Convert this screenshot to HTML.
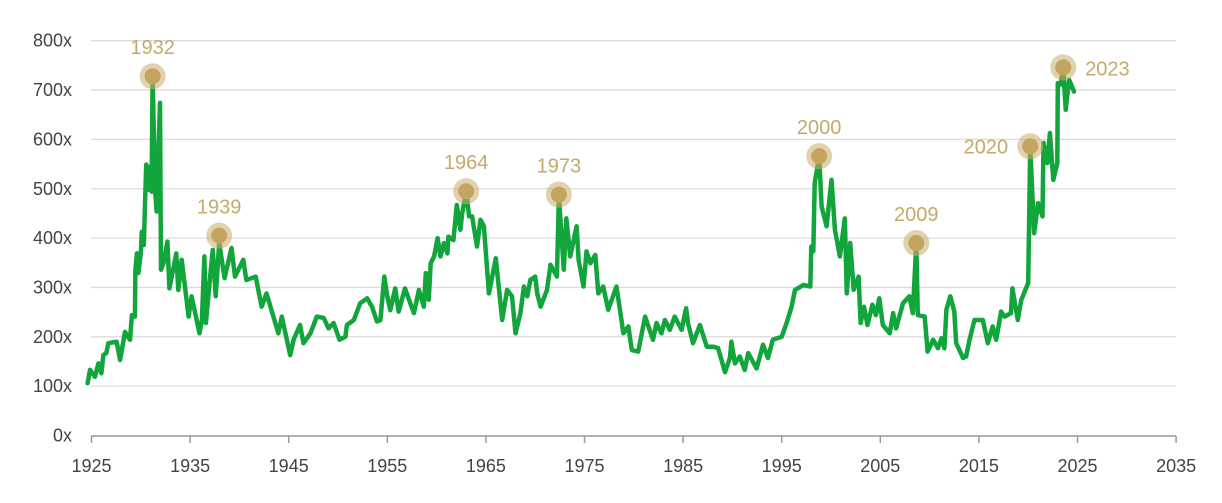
<!DOCTYPE html>
<html><head><meta charset="utf-8"><style>
html,body{margin:0;padding:0;background:#fff;}
svg{display:block;font-family:"Liberation Sans",sans-serif;}
</style></head><body>
<svg id="chart" width="1222" height="503" viewBox="0 0 1222 503">
<g id="grid"></g>
<g id="yaxis"></g>
<g id="xaxis"></g>
<g id="series"></g>
<g id="peaks"></g>
</svg>
<script>
const yTicks=[0,100,200,300,400,500,600,700,800];
const yTickLabels=["0x","100x","200x","300x","400x","500x","600x","700x","800x"];
const xTicks=[1925,1935,1945,1955,1965,1975,1985,1995,2005,2015,2025,2035];
const years=[1924.6,1924.85,1925.35,1925.7,1926.0,1926.2,1926.5,1926.7,1927.55,1927.9,1928.4,1928.9,1929.1,1929.4,1929.45,1929.6,1929.75,1930.0,1930.1,1930.3,1930.55,1930.8,1930.95,1931.1,1931.2,1931.45,1931.6,1931.95,1932.05,1932.3,1932.7,1932.9,1933.6,1933.8,1934.15,1934.85,1935.15,1935.95,1936.2,1936.45,1936.6,1937.0,1937.3,1937.6,1937.95,1938.5,1939.2,1939.55,1940.4,1940.7,1941.65,1942.25,1942.75,1943.45,1943.95,1944.3,1945.15,1945.5,1946.15,1946.5,1947.2,1947.85,1948.55,1949.05,1949.55,1950.15,1950.75,1950.9,1951.6,1952.25,1952.95,1953.45,1953.95,1954.3,1954.7,1955.0,1955.3,1955.8,1956.15,1956.8,1957.2,1957.7,1958.2,1958.7,1958.9,1959.2,1959.4,1959.75,1960.1,1960.4,1960.75,1961.1,1961.2,1961.7,1962.05,1962.4,1962.6,1963.0,1963.3,1963.6,1964.1,1964.45,1964.8,1965.3,1966.0,1966.65,1967.15,1967.65,1968.0,1968.5,1968.85,1969.2,1969.5,1970.0,1970.2,1970.55,1971.2,1971.55,1972.2,1972.4,1972.9,1973.15,1973.55,1974.2,1974.4,1974.9,1975.2,1975.6,1976.1,1976.4,1976.9,1977.4,1978.25,1978.95,1979.45,1979.8,1980.45,1981.15,1981.6,1981.95,1982.3,1982.8,1983.15,1983.65,1984.15,1984.85,1985.3,1985.5,1986.0,1986.7,1987.4,1988.05,1988.55,1989.25,1989.75,1989.9,1990.25,1990.75,1991.25,1991.6,1992.45,1993.1,1993.6,1994.1,1995.0,1995.5,1996.0,1996.35,1997.2,1997.9,1998.0,1998.2,1998.35,1998.8,1999.05,1999.55,2000.05,2000.4,2000.9,2001.4,2001.6,2001.95,2002.3,2002.8,2003.0,2003.35,2003.7,2004.2,2004.55,2004.9,2005.25,2005.95,2006.3,2006.6,2007.3,2007.95,2008.3,2008.65,2008.8,2009.5,2009.8,2010.35,2010.85,2011.2,2011.5,2011.7,2012.1,2012.5,2012.7,2013.4,2013.7,2014.05,2014.55,2015.4,2015.9,2016.4,2016.75,2017.25,2017.6,2018.25,2018.4,2018.95,2019.3,2020.0,2020.1,2020.2,2020.6,2021.0,2021.45,2021.55,2021.95,2022.2,2022.55,2022.95,2023.0,2023.3,2023.55,2023.8,2024.15,2024.65];
const peValues=[106,133,119,146,126,163,167,187,190,153,210,194,244,241,336,369,329,369,413,386,549,498,545,494,728,498,454,674,336,349,393,298,369,295,356,241,282,207,234,363,228,315,376,282,390,319,380,322,356,315,322,261,288,241,207,241,163,194,224,187,207,241,238,217,228,194,200,224,234,268,278,261,231,234,322,282,254,298,251,298,275,248,295,261,329,275,349,363,400,363,390,369,403,396,467,417,450,495,444,444,383,437,424,288,359,234,295,282,207,248,302,282,315,322,288,261,295,346,322,484,336,440,363,424,356,302,373,349,366,288,302,255,302,207,221,173,170,241,214,194,228,207,234,214,241,214,258,228,187,224,180,180,177,128,157,190,146,160,133,167,136,184,157,194,200,228,261,295,305,302,383,373,511,566,464,424,518,417,363,440,288,390,295,322,228,261,224,265,244,278,224,207,248,217,268,282,248,390,244,241,170,194,177,197,177,255,282,251,187,157,160,194,234,234,187,221,194,251,241,248,298,234,275,309,444,586,410,471,444,593,552,613,518,552,714,711,746,660,721,697];
const peakYears=[1931.2,1937.95,1963.0,1972.4,1998.8,2008.65,2020.2,2023.55];
const peakValues=[728,405,495,488,566,390,586,746];
const peakLabels=["1932","1939","1964","1973","2000","2009","2020","2023"];
const peakLabelPos=["top","top","top","top","top","top","left","right"];

const NS="http://www.w3.org/2000/svg";
const x0=91.5,pxPerYear=9.86,yBase=435.5,pxPerUnit=0.4935;
function xs(y){return x0+(y-1925)*pxPerYear;}
function ys(v){return yBase-v*pxPerUnit;}
function mk(tag,attrs,parent){const e=document.createElementNS(NS,tag);for(const k in attrs)e.setAttribute(k,attrs[k]);parent.appendChild(e);return e;}

const grid=document.getElementById('grid'),yax=document.getElementById('yaxis'),xax=document.getElementById('xaxis');
yTicks.forEach((t,i)=>{
  if(t>0){const l=mk('line',{x1:91,x2:1176,y1:ys(t),y2:ys(t),stroke:'#dcdcdc','stroke-width':1.3},grid);
  
  }
  const tx=mk('text',{x:72,y:ys(t)+6,'text-anchor':'end','font-size':18,fill:'#444'},yax);
  tx.textContent=yTickLabels[i];
  
  
});
const ax=mk('line',{x1:91,x2:1176,y1:436,y2:436,stroke:'#999','stroke-width':1.5},xax);


xTicks.forEach(t=>{
  const tk=mk('line',{x1:xs(t),x2:xs(t),y1:436,y2:443,stroke:'#999','stroke-width':1.5},xax);
  
  
  const tx=mk('text',{x:xs(t),y:472,'text-anchor':'middle','font-size':18,fill:'#444'},xax);
  tx.textContent=t;
  
  
});
const pts=years.map((y,i)=>xs(y).toFixed(1)+','+ys(peValues[i]).toFixed(1)).join(' ');
const pl=mk('polyline',{points:pts,fill:'none',stroke:'#12a53c','stroke-width':4.5,'stroke-linejoin':'round','stroke-linecap':'round'},document.getElementById('series'));


const pk=document.getElementById('peaks');
peakYears.forEach((y,i)=>{
  const cx=xs(y),cy=ys(peakValues[i]);
  const o=mk('circle',{cx:cx,cy:cy,r:13,fill:'rgba(200,172,105,0.55)'},pk);
  
  
  const c=mk('circle',{cx:cx,cy:cy,r:8,fill:'#c3a560'},pk);
  
  
  let lx=cx,ly=cy-22,anc='middle';
  if(peakLabelPos[i]==='left'){lx=cx-22;ly=cy+7;anc='end';}
  if(peakLabelPos[i]==='right'){lx=cx+22;ly=cy+8;anc='start';}
  const t=mk('text',{x:lx,y:ly,'text-anchor':anc,'font-size':20,fill:'#c4a96a'},pk);
  t.textContent=peakLabels[i];
  
  
});
</script>
</body></html>
